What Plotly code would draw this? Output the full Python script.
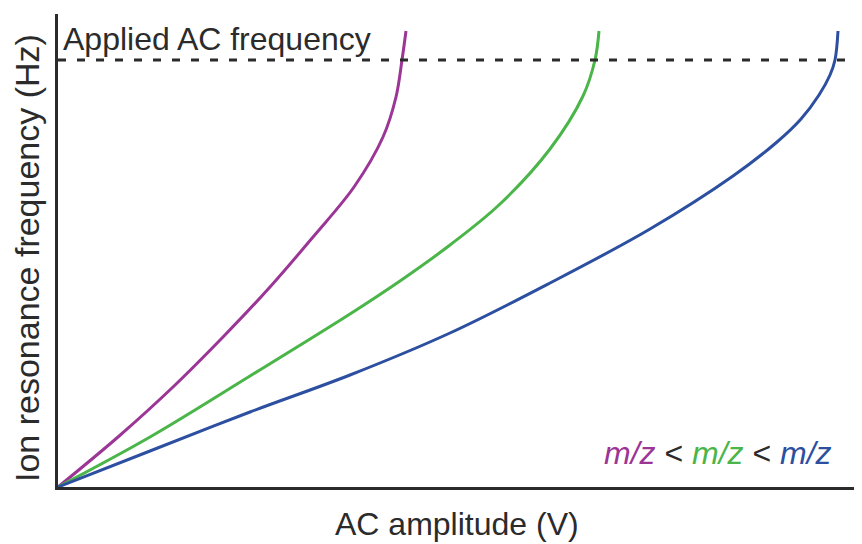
import plotly.graph_objects as go

# Data (arbitrary units)
purple_x = [0, 60, 115, 165, 212, 255, 296, 325, 338, 344, 348]
purple_y = [0, 50, 100, 150, 200, 250, 300, 350, 390, 427, 456]

green_x = [0, 92, 192, 292, 342, 392, 442, 492, 525, 537, 541]
green_y = [0, 50, 111, 173, 206, 242, 283, 338, 391, 427, 456]

blue_x = [0, 92, 192, 292, 392, 492, 592, 675, 719, 743, 761, 772, 777, 780]
blue_y = [0, 36, 75, 112, 154, 204, 258, 311, 345, 368, 392, 412, 427, 456]

applied_freq = 427
x_max = 804
y_max = 473

PURPLE = "#9b3596"
GREEN = "#4ab548"
BLUE = "#2c4fa0"
DARK = "#2b2b2b"
FONT = "Liberation Sans, Arial, sans-serif"

W, H = 854, 536
L, R, T, B = 50, 0, 6, 57
plot_w = W - L - R
plot_h = H - T - B

fig = go.Figure()
for xs, ys, c in [(purple_x, purple_y, PURPLE), (green_x, green_y, GREEN), (blue_x, blue_y, BLUE)]:
    fig.add_trace(go.Scatter(x=xs, y=ys, mode="lines",
                             line=dict(color=c, width=3, shape="spline", smoothing=1.0),
                             showlegend=False, hoverinfo="skip"))

fig.add_trace(go.Scatter(x=[0, x_max], y=[applied_freq, applied_freq], mode="lines",
                         line=dict(color=DARK, width=3, dash="8px,11px"),
                         showlegend=False, hoverinfo="skip"))

fig.update_layout(
    width=W, height=H,
    margin=dict(l=L, r=R, t=T, b=B),
    paper_bgcolor="white", plot_bgcolor="white",
    font=dict(family=FONT, color=DARK),
    xaxis=dict(range=[0, x_max], showgrid=False, zeroline=False, showticklabels=False,
               ticks="", showline=True, linewidth=3, linecolor=DARK),
    yaxis=dict(range=[0, y_max], showgrid=False, zeroline=False, showticklabels=False,
               ticks="", showline=True, linewidth=3, linecolor=DARK),
    annotations=[
        dict(text="Applied AC frequency", x=3, y=448, xref="x", yref="y",
             xanchor="left", yanchor="middle", showarrow=False,
             font=dict(size=32, color=DARK, family=FONT)),
        dict(text="AC amplitude (V)", x=(449 - L) / plot_w, y=-(516 - (H - B)) / plot_h,
             xref="paper", yref="paper",
             xanchor="center", yanchor="middle", showarrow=False,
             font=dict(size=32, color=DARK, family=FONT)),
        dict(text=f"<i><span style='color:{PURPLE}'>m/z</span></i> &lt; "
                  f"<i><span style='color:{GREEN}'>m/z</span></i> &lt; "
                  f"<i><span style='color:{BLUE}'>m/z</span></i>",
             x=660, y=34, xref="x", yref="y", xanchor="center", yanchor="middle",
             showarrow=False, font=dict(size=32, color=DARK, family=FONT)),
        dict(text="Ion resonance frequency (Hz)", x=(19 - L) / plot_w, y=((H - B) - 250) / plot_h,
             xref="paper", yref="paper",
             textangle=-90, xanchor="center", yanchor="middle", showarrow=False,
             font=dict(size=34, color=DARK, family=FONT)),
    ],
)

fig.write_html("out.html")
